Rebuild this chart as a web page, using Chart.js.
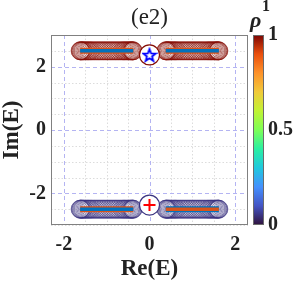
<!DOCTYPE html>
<html>
<head>
<meta charset="utf-8">
<script src="https://cdn.jsdelivr.net/npm/chart.js@4.4.0/dist/chart.umd.min.js"></script>
<style>
  html, body { margin: 0; padding: 0; background: #fff; }
</style>
</head>
<body>
<canvas id="c" width="298" height="287"></canvas>
<script>
const bandRe = [-1.62, -1.61, -1.6, -1.58, -1.56, -1.54, -1.51, -1.48, -1.45, -1.42, -1.39,
  -1.36, -1.32, -1.28, -1.24, -1.2, -1.16, -1.12, -1.08, -1.04, -1.0, -0.96, -0.92, -0.88,
  -0.84, -0.8, -0.76, -0.72, -0.68, -0.64, -0.61, -0.58, -0.55, -0.52, -0.49, -0.46, -0.44,
  -0.42, -0.4, -0.39, -0.38,
  0.38, 0.39, 0.4, 0.42, 0.44, 0.46, 0.49, 0.52, 0.55, 0.58, 0.61, 0.64, 0.68, 0.72, 0.76,
  0.8, 0.84, 0.88, 0.92, 0.96, 1.0, 1.04, 1.08, 1.12, 1.16, 1.2, 1.24, 1.28, 1.32, 1.36,
  1.39, 1.42, 1.45, 1.48, 1.51, 1.54, 1.56, 1.58, 1.6, 1.61, 1.62];
const upperIm = 2.5;
const lowerIm = -2.5;
const upperRho = 0.99;
const lowerRho = 0.05;

// spectrum arcs drawn as lines
const segLeft = [-1.62, -0.38];
const segRight = [0.38, 1.62];

// special states
const starPt = { x: 0, y: 2.37 };
const plusPt = { x: 0, y: -2.37 };

const xTicks = [-2, 0, 2];
const yTicks = [-2, 0, 2];
const cbTicks = [0, 0.5, 1];

// colormap (turbo-like)
const cmapPos = [0, 0.1, 0.2, 0.3, 0.4, 0.5, 0.6, 0.7, 0.8, 0.9, 1];
const cmapCol = ['#30123b', '#4454c4', '#4490fe', '#1fc8de', '#29efa2', '#7dff56',
  '#c1f334', '#f1ca3a', '#fe922a', '#ea4f0d', '#7a0403'];

function hex2rgb(h) {
  return [parseInt(h.slice(1, 3), 16), parseInt(h.slice(3, 5), 16), parseInt(h.slice(5, 7), 16)];
}
function cmap(v) {
  for (let i = 1; i < cmapPos.length; i++) {
    if (v <= cmapPos[i]) {
      const t = (v - cmapPos[i - 1]) / (cmapPos[i] - cmapPos[i - 1]);
      const a = hex2rgb(cmapCol[i - 1]), b = hex2rgb(cmapCol[i]);
      const c = a.map((x, k) => Math.round(x + (b[k] - x) * t));
      return `rgb(${c[0]},${c[1]},${c[2]})`;
    }
  }
  return cmapCol[cmapCol.length - 1];
}

const BLUE = '#0072BD';
const ORANGE = '#D95319';
const SERIF = "'Liberation Serif', 'Times New Roman', serif";

// pentagram marker
function makeStar() {
  const s = document.createElement('canvas');
  s.width = 16; s.height = 16;
  const g = s.getContext('2d');
  g.strokeStyle = '#0000ff';
  g.lineWidth = 1.8;
  g.beginPath();
  for (let i = 0; i < 10; i++) {
    const r = i % 2 === 0 ? 6.5 : 2.7;
    const a = -Math.PI / 2 + i * Math.PI / 5;
    const px = 8 + r * Math.cos(a), py = 8.6 + r * Math.sin(a);
    if (i === 0) g.moveTo(px, py); else g.lineTo(px, py);
  }
  g.closePath();
  g.stroke();
  return s;
}

const seg = (xs, y) => xs.map(x => ({ x, y }));

const decor = {
  id: 'decor',
  beforeDatasetsDraw(chart) {
    const { ctx, chartArea: a, scales: { x, y } } = chart;
    ctx.save();
    ctx.lineWidth = 1;
    // minor grid every 0.5
    ctx.strokeStyle = '#dcdcdc';
    ctx.setLineDash([1.5, 2]);
    for (let v = -2; v <= 2.001; v += 0.5) {
      if (Math.abs(v) % 2 < 0.01) continue;
      const px = Math.round(x.getPixelForValue(v)) + 0.5;
      ctx.beginPath(); ctx.moveTo(px, a.top); ctx.lineTo(px, a.bottom); ctx.stroke();
    }
    for (let v = -3; v <= 3.001; v += 0.5) {
      if (Math.abs(v) % 2 < 0.01) continue;
      const py = Math.round(y.getPixelForValue(v)) + 0.5;
      ctx.beginPath(); ctx.moveTo(a.left, py); ctx.lineTo(a.right, py); ctx.stroke();
    }
    // major grid
    ctx.strokeStyle = '#b4b4f2';
    ctx.setLineDash([4, 3]);
    xTicks.forEach(v => {
      const px = Math.round(x.getPixelForValue(v)) + 0.5;
      ctx.beginPath(); ctx.moveTo(px, a.top); ctx.lineTo(px, a.bottom); ctx.stroke();
    });
    yTicks.forEach(v => {
      const py = Math.round(y.getPixelForValue(v)) + 0.5;
      ctx.beginPath(); ctx.moveTo(a.left, py); ctx.lineTo(a.right, py); ctx.stroke();
    });
    ctx.restore();
  },
  afterDraw(chart) {
    const { ctx, chartArea: a, scales: { x, y } } = chart;
    ctx.save();
    ctx.setLineDash([]);
    ctx.strokeStyle = '#808080';
    ctx.lineWidth = 1;
    ctx.strokeRect(a.left + 0.5, a.top + 0.5, a.right - a.left - 1, a.bottom - a.top - 1);

    ctx.fillStyle = '#222';
    ctx.font = `bold 20px ${SERIF}`;
    ctx.textAlign = 'center';
    ctx.textBaseline = 'middle';
    xTicks.forEach(v => ctx.fillText(String(v), x.getPixelForValue(v), a.bottom + 20));
    ctx.textAlign = 'right';
    yTicks.forEach(v => ctx.fillText(String(v), a.left - 5, y.getPixelForValue(v)));

    // axis titles
    ctx.font = `bold 23px ${SERIF}`;
    ctx.textAlign = 'center';
    ctx.fillText('Re(E)', (a.left + a.right) / 2, a.bottom + 44);
    ctx.save();
    ctx.translate(12, (a.top + a.bottom) / 2);
    ctx.rotate(-Math.PI / 2);
    ctx.fillText('Im(E)', 0, 0);
    ctx.restore();

    // title
    ctx.font = `23px ${SERIF}`;
    ctx.fillText('(e2)', (a.left + a.right) / 2, 18);

    // colorbar
    const cbL = a.right + 5, cbW = 11;
    const grad = ctx.createLinearGradient(0, a.bottom, 0, a.top);
    cmapPos.forEach((p, i) => grad.addColorStop(p, cmapCol[i]));
    ctx.fillStyle = grad;
    ctx.fillRect(cbL, a.top, cbW, a.bottom - a.top);
    ctx.strokeStyle = '#6b6b6b';
    ctx.strokeRect(cbL + 0.5, a.top + 0.5, cbW - 1, a.bottom - a.top - 1);
    ctx.fillStyle = '#222';
    ctx.font = `bold 20px ${SERIF}`;
    ctx.textAlign = 'left';
    cbTicks.forEach(v => {
      const py = a.bottom - v * (a.bottom - a.top);
      ctx.fillText(String(v), cbL + cbW + 4, py);
    });
    ctx.font = `italic bold 22px ${SERIF}`;
    ctx.fillText('ρ', cbL - 3, 21);
    ctx.font = `bold 16px ${SERIF}`;
    ctx.fillText('1', cbL + 9, 7);
    ctx.restore();
  }
};

const bandStyle = rho => ({
  showLine: false,
  pointStyle: 'circle',
  pointRadius: 9,
  pointBorderWidth: 0.6,
  pointBackgroundColor: 'rgba(0,0,0,0)',
  pointBorderColor: cmap(rho),
});
const lineStyle = (color, w) => ({
  showLine: true,
  borderColor: color,
  borderWidth: w,
  borderCapStyle: 'butt',
  pointRadius: 0,
});

function draw() {
  new Chart(document.getElementById('c'), {
    type: 'scatter',
    data: {
      datasets: [
        { data: [starPt], pointStyle: makeStar(), pointRadius: 8 },
        { data: [plusPt], pointStyle: 'cross', pointRadius: 6, pointBorderWidth: 2, pointBorderColor: '#ff0000' },
        { data: [starPt], pointStyle: 'circle', pointRadius: 10, pointBorderWidth: 1.2,
          pointBorderColor: cmap(upperRho), pointBackgroundColor: '#fff' },
        { data: [plusPt], pointStyle: 'circle', pointRadius: 10, pointBorderWidth: 1.2,
          pointBorderColor: cmap(lowerRho), pointBackgroundColor: '#fff' },
        { data: seg(segLeft, upperIm), ...lineStyle(BLUE, 3.5) },
        { data: seg(segRight, upperIm), ...lineStyle(BLUE, 3.5) },
        { data: seg(segLeft, lowerIm), ...lineStyle(BLUE, 3.5) },
        { data: seg(segRight, lowerIm), ...lineStyle(ORANGE, 3.5) },
        { data: seg(segLeft, upperIm), ...lineStyle(ORANGE, 6) },
        { data: seg(segRight, upperIm), ...lineStyle(ORANGE, 6) },
        { data: seg(segLeft, lowerIm), ...lineStyle(ORANGE, 6) },
        { data: seg(segRight, lowerIm), ...lineStyle(BLUE, 6) },
        { data: bandRe.map(re => ({ x: re, y: upperIm })), ...bandStyle(upperRho) },
        { data: bandRe.map(re => ({ x: re, y: lowerIm })), ...bandStyle(lowerRho) },
      ],
    },
    options: {
      responsive: false,
      animation: false,
      devicePixelRatio: 1,
      layout: { padding: { left: 51, right: 50, top: 35, bottom: 62 } },
      scales: {
        x: { type: 'linear', min: -2.3, max: 2.3, display: false },
        y: { type: 'linear', min: -3, max: 3, display: false },
      },
      plugins: { legend: { display: false }, tooltip: { enabled: false } },
    },
    plugins: [decor],
  });
}

Promise.all([
  document.fonts.load("bold 20px 'Liberation Serif'"),
  document.fonts.load("23px 'Liberation Serif'"),
  document.fonts.load("italic bold 22px 'Liberation Serif'"),
]).then(draw, draw);
</script>
</body>
</html>
